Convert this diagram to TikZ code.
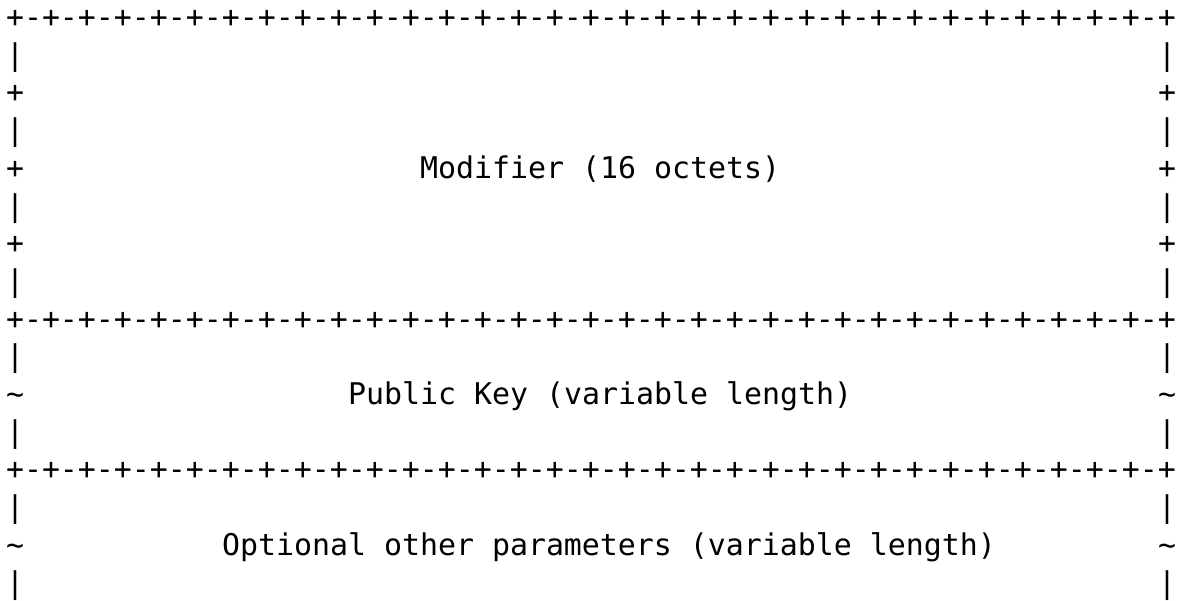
\documentclass[tikz,border=0pt]{standalone}
\usepackage{fontspec}
\newfontfamily\asciifont{DejaVu Sans Mono}

% one character cell is 18pt wide, one text line is 37.7pt high
\newcommand\cellat[4]{%
  \node[cell] (#1) at ({6+18*#2},{-27.5-37.7*#3}) {#4};}
\newcommand\borderrow{+-+-+-+-+-+-+-+-+-+-+-+-+-+-+-+-+-+-+-+-+-+-+-+-+-+-+-+-+-+-+-+-+}

\begin{document}
\begin{tikzpicture}[x=1pt,y=1pt,
  cell/.style={anchor=base west, inner sep=0pt, outer sep=0pt,
    font=\asciifont\fontsize{29.9}{37.7}\selectfont, text=black}]
\useasboundingbox[fill=white] (0,0) rectangle (1177,-600);

% horizontal field borders
\cellat{top}{0}{0}{\borderrow}
\cellat{midA}{0}{8}{\borderrow}
\cellat{midB}{0}{12}{\borderrow}

% Modifier field (rows 1-7)
\foreach \r in {1,3,5,7} {
  \cellat{modL\r}{0}{\r}{|}
  \cellat{modR\r}{64}{\r}{|}
}
\foreach \r in {2,4,6} {
  \cellat{modpL\r}{0}{\r}{+}
  \cellat{modpR\r}{64}{\r}{+}
}
\cellat{modifier}{23}{4}{Modifier (16 octets)}

% Public Key field (rows 9-11)
\foreach \r in {9,11} {
  \cellat{pkL\r}{0}{\r}{|}
  \cellat{pkR\r}{64}{\r}{|}
}
\cellat{pkTL}{0}{10}{\textasciitilde}
\cellat{pkTR}{64}{10}{\textasciitilde}
\cellat{pubkey}{19}{10}{Public Key (variable length)}

% Optional parameters field (rows 13-15)
\foreach \r in {13,15} {
  \cellat{opL\r}{0}{\r}{|}
  \cellat{opR\r}{64}{\r}{|}
}
\cellat{opTL}{0}{14}{\textasciitilde}
\cellat{opTR}{64}{14}{\textasciitilde}
\cellat{optional}{12}{14}{Optional other parameters (variable length)}
\end{tikzpicture}
\end{document}
